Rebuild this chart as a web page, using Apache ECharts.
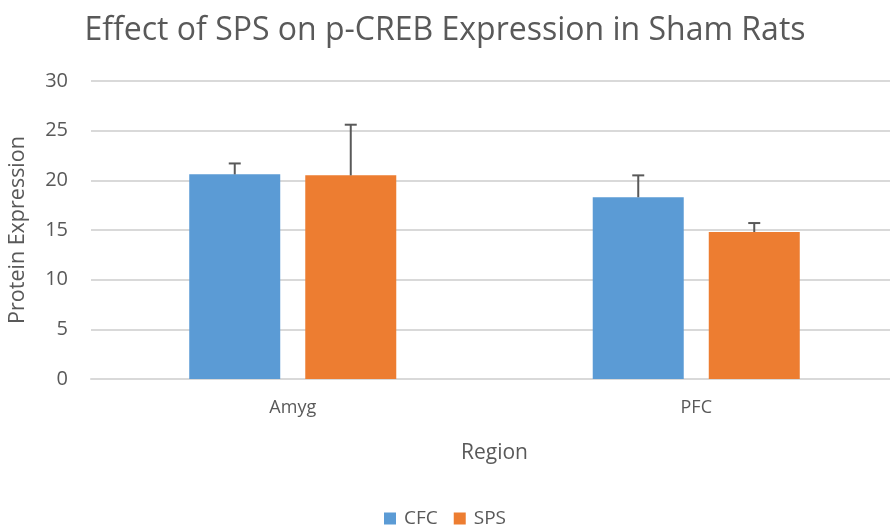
<!DOCTYPE html>
<html>
<head>
<meta charset="utf-8">
<script src="https://cdn.jsdelivr.net/npm/echarts@6/dist/echarts.min.js"></script>
<style>
    html, body { margin: 0; padding: 0; background: #fff; }
    #chart { width: 890px; height: 531px; }
</style>
</head>
<body>
<div id="chart"></div>
<script>
// chart data
var regions = ['Amyg', 'PFC'];
var cfcValues = [20.6, 18.3];
var cfcErrors = [1.1, 2.2];
var spsValues = [20.5, 14.8];
var spsErrors = [5.1, 0.9];
var yTicks = [0, 5, 10, 15, 20, 25, 30];

var textColor = '#595959';
var fontFamily = '"Open Sans", sans-serif';
var barWidth = 91;
var barGapPx = 25;

function errorSeries(name, values, errors, side) {
    var data = values.map(function (v, i) {
        return [i, v, v + errors[i]];
    });
    return {
        name: name + ' error',
        type: 'custom',
        z: 10,
        silent: true,
        data: data,
        renderItem: function (params, api) {
            var offset = side * (barWidth + barGapPx) / 2;
            var base = api.coord([api.value(0), api.value(1)]);
            var top = api.coord([api.value(0), api.value(2)]);
            var x = base[0] + offset;
            var style = { stroke: '#595959', lineWidth: 2 };
            return {
                type: 'group',
                children: [
                    { type: 'line', shape: { x1: x, y1: base[1], x2: x, y2: top[1] }, style: style },
                    { type: 'line', shape: { x1: x - 6, y1: top[1], x2: x + 6, y2: top[1] }, style: style }
                ]
            };
        }
    };
}

var chart = echarts.init(document.getElementById('chart'));
chart.setOption({
    backgroundColor: '#fff',
    animation: false,
    title: {
        text: 'Effect of SPS on p-CREB Expression in Sham Rats',
        left: 'center',
        top: 10,
        textStyle: {
            color: textColor,
            fontFamily: fontFamily,
            fontWeight: 'normal',
            fontSize: 32
        }
    },
    legend: {
        data: ['CFC', 'SPS'],
        bottom: -2,
        left: 'center',
        icon: 'rect',
        itemWidth: 12,
        itemHeight: 12,
        itemGap: 16,
        itemStyle: { borderWidth: 0 },
        textStyle: { color: textColor, fontFamily: fontFamily, fontSize: 19, padding: [0, 0, 0, 3] }
    },
    grid: {
        left: 91,
        width: 807,
        top: 81,
        height: 298,
        containLabel: false,
        outerBoundsMode: 'none'
    },
    xAxis: {
        type: 'category',
        data: regions,
        name: 'Region',
        nameLocation: 'middle',
        nameGap: 64,
        nameTextStyle: { color: textColor, fontFamily: fontFamily, fontSize: 21 },
        axisLine: { lineStyle: { color: '#d9d9d9', width: 2 } },
        axisTick: { show: false },
        axisLabel: { color: textColor, fontFamily: fontFamily, fontSize: 18, margin: 20 }
    },
    yAxis: {
        type: 'value',
        min: yTicks[0],
        max: yTicks[yTicks.length - 1],
        interval: 5,
        name: 'Protein Expression',
        nameLocation: 'middle',
        nameGap: 62,
        nameTextStyle: { color: textColor, fontFamily: fontFamily, fontSize: 21.5 },
        axisLine: { show: false },
        axisTick: { show: false },
        axisLabel: { color: textColor, fontFamily: fontFamily, fontSize: 20, margin: 23 },
        splitLine: { lineStyle: { color: '#d9d9d9', width: 2 } }
    },
    series: [
        {
            name: 'CFC',
            type: 'bar',
            data: cfcValues,
            barWidth: barWidth,
            barGap: (barGapPx / barWidth * 100).toFixed(1) + '%',
            itemStyle: { color: '#5b9bd5' }
        },
        {
            name: 'SPS',
            type: 'bar',
            data: spsValues,
            barWidth: barWidth,
            itemStyle: { color: '#ed7d31' }
        },
        errorSeries('CFC', cfcValues, cfcErrors, -1),
        errorSeries('SPS', spsValues, spsErrors, 1)
    ]
});
</script>
</body>
</html>
